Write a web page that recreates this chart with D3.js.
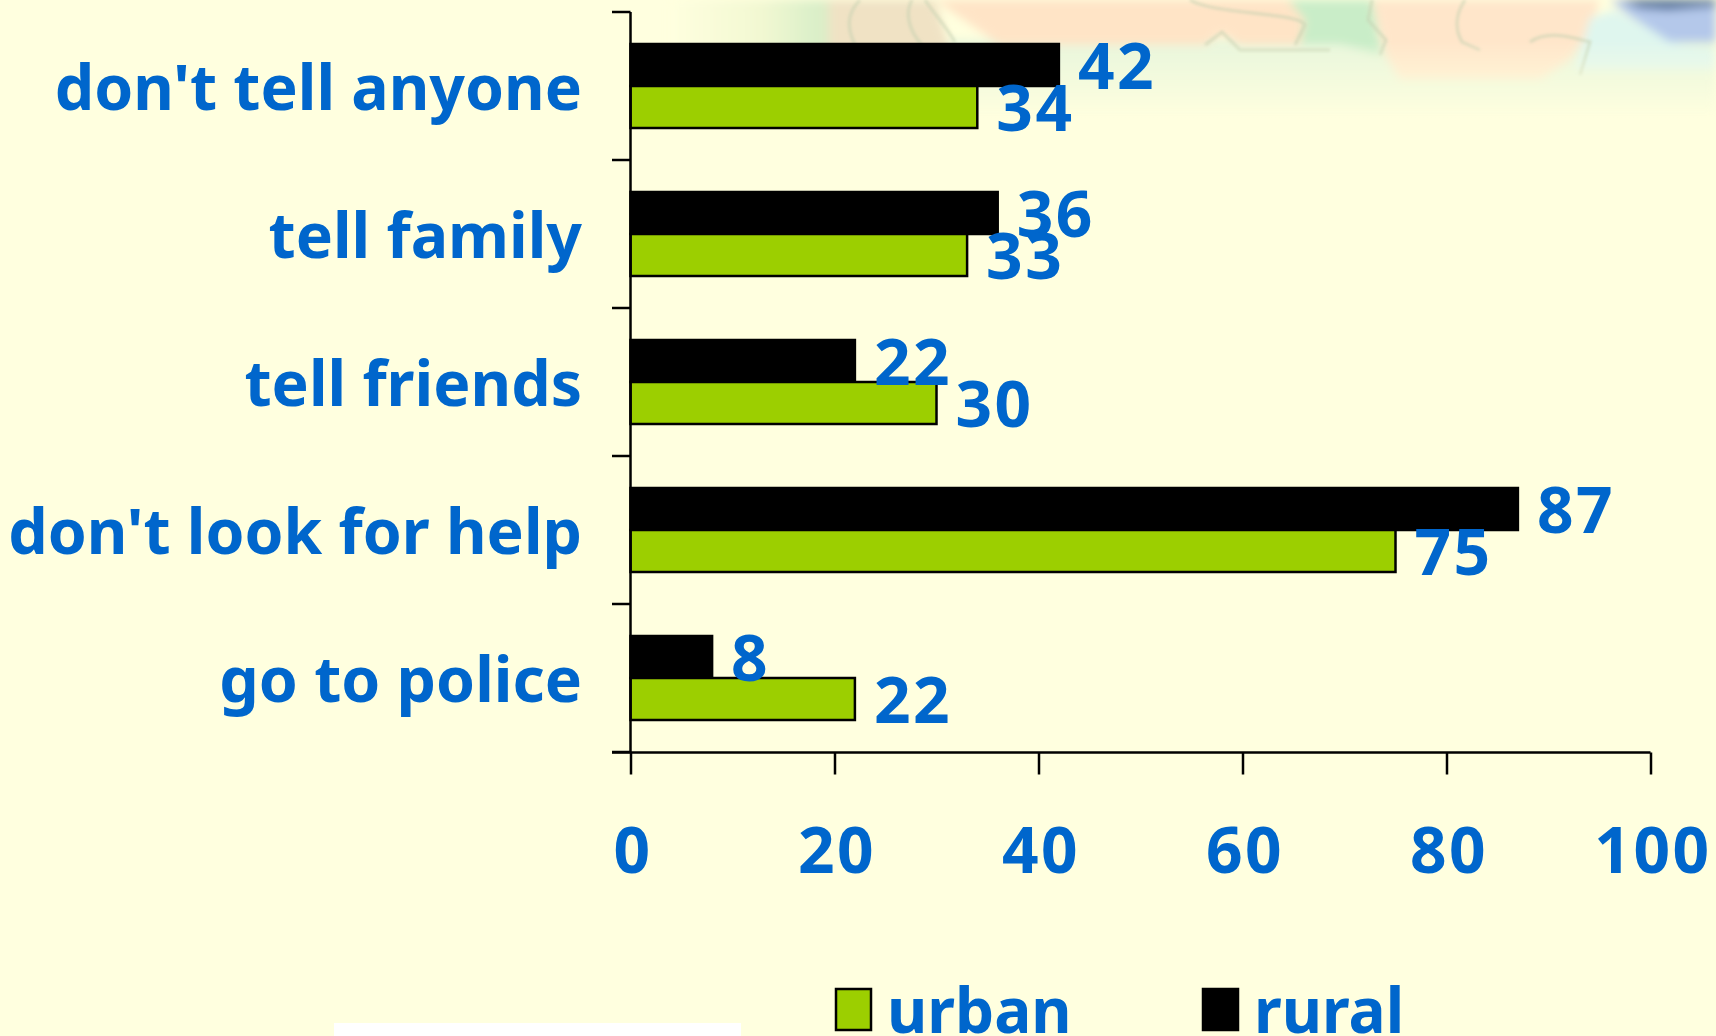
<!DOCTYPE html>
<html><head><meta charset="utf-8">
<script src="https://cdn.jsdelivr.net/npm/d3@7"></script>
<style>
html,body{margin:0;padding:0;background:#ffffdf;overflow:hidden}
text{font-family:"Noto Sans",sans-serif;font-weight:bold;fill:#0066cc}
</style></head><body>
<svg id="chart" width="1716" height="1036"></svg>
<script>
// Survey responses, listed from the top of the chart downwards
const categories = ["don't tell anyone", "tell family", "tell friends", "don't look for help", "go to police"];
const urban = [34, 33, 30, 75, 22];
const rural = [42, 36, 22, 87, 8];
const xTicks = [0, 20, 40, 60, 80, 100];

const colors = {urban: "#9ccf00", rural: "#000000"};
const labelSize = 62.5;
const numberSize = 64;
const numberSpacing = 2.5;
const svg = d3.select("#chart");

// Faded map artwork across the top of the slide
const defs = svg.append("defs");
defs.append("filter").attr("id", "soft").attr("x", "-5%").attr("y", "-20%").attr("width", "110%").attr("height", "140%")
  .append("feGaussianBlur").attr("stdDeviation", 5);
defs.append("filter").attr("id", "softer").attr("x", "-5%").attr("y", "-20%").attr("width", "110%").attr("height", "140%")
  .append("feGaussianBlur").attr("stdDeviation", 1.6);
const fade = defs.append("linearGradient").attr("id", "fade").attr("x1", 0).attr("x2", 0).attr("y1", 0).attr("y2", 1);
fade.append("stop").attr("offset", 0.35).attr("stop-color", "#fff");
fade.append("stop").attr("offset", 1).attr("stop-color", "#000");
defs.append("mask").attr("id", "fadeMask").attr("maskUnits", "userSpaceOnUse")
  .attr("x", 640).attr("y", 0).attr("width", 1076).attr("height", 118)
  .append("rect").attr("x", 640).attr("y", 0).attr("width", 1076).attr("height", 118).attr("fill", "url(#fade)");
const edgeFade = defs.append("linearGradient").attr("id", "edgeFade");
edgeFade.append("stop").attr("offset", 0).attr("stop-color", "#ffffdf");
edgeFade.append("stop").attr("offset", 0.55).attr("stop-color", "#f2f8d2");
edgeFade.append("stop").attr("offset", 0.9).attr("stop-color", "#d9efc8");
edgeFade.append("stop").attr("offset", 1).attr("stop-color", "#e6e8c6");

const mapRegions = [
  {fill: "#e8f6dc", d: "M820 40H1716V118H820Z"},
  {fill: "url(#edgeFade)", d: "M670 0H835V60H670Z"},
  {fill: "#f0e2c4", d: "M830 0H935L950 50H830Z"},
  {fill: "#ffe4c6", d: "M935 0H1288L1305 20L1300 45H1240L1222 34L1205 45H1000Z"},
  {fill: "#c9edc8", d: "M1288 0H1372L1382 55L1340 44H1300L1305 20Z"},
  {fill: "#ffe6ca", d: "M1372 0H1600L1590 30L1570 60L1540 80H1400L1385 55Z"},
  {fill: "#dff6ee", d: "M1590 18L1615 10L1680 45L1716 50V70H1575Z"},
  {fill: "#b4c8ea", d: "M1610 0H1716V42L1670 42L1630 16Z"},
  {fill: "#4a6a96", d: "M1620 0H1716V6L1668 10L1640 8Z"}
];
const mapBorders = [
  "M860 0C845 15 848 30 855 45",
  "M912 0C905 12 908 30 922 45",
  "M925 0C935 15 945 25 955 42",
  "M1190 0C1215 15 1300 12 1305 25L1295 45",
  "M1372 0L1368 20L1386 40L1380 55",
  "M1465 0C1455 15 1455 30 1462 42L1480 50",
  "M1530 42C1550 28 1580 40 1590 42L1580 75",
  "M1205 45L1222 32L1240 50H1330"
];
const mapArt = svg.append("g").attr("mask", "url(#fadeMask)");
mapArt.append("g").attr("filter", "url(#soft)")
  .selectAll("path").data(mapRegions).join("path")
  .attr("d", d => d.d).attr("fill", d => d.fill);
mapArt.append("g").attr("filter", "url(#softer)")
  .selectAll("path").data(mapBorders).join("path")
  .attr("d", d => d).attr("fill", "none").attr("stroke", "#c4d0b0").attr("stroke-width", 3).attr("stroke-opacity", 0.6);

// Pale strip at the foot of the slide
svg.append("rect").attr("x", 334).attr("y", 1023).attr("width", 407).attr("height", 13).attr("fill", "#fff");

const x = d3.scaleLinear().domain([0, 100]).range([630.5, 1650.5]);
const y = d3.scaleBand().domain(categories).range([12, 752]);
const inner = d3.scaleBand().domain(["rural", "urban"]).range([y.bandwidth() / 2 - 42, y.bandwidth() / 2 + 42]);

// Bars
const groups = svg.append("g").selectAll("g").data(categories).join("g")
  .attr("transform", d => `translate(0,${y(d)})`);
[["rural", rural], ["urban", urban]].forEach(([key, vals]) => {
  groups.append("rect")
    .attr("x", x(0))
    .attr("y", inner(key))
    .attr("width", (d, i) => x(vals[i]) - x(0))
    .attr("height", inner.bandwidth())
    .attr("fill", colors[key])
    .attr("stroke", "#000").attr("stroke-width", 2.5);
});

// Value labels
[["rural", rural], ["urban", urban]].forEach(([key, vals]) => {
  groups.append("text")
    .attr("x", (d, i) => x(vals[i]) + 19)
    .attr("y", inner(key) + inner.bandwidth() / 2 + 23.5)
    .attr("font-size", numberSize)
    .attr("letter-spacing", numberSpacing)
    .text((d, i) => vals[i]);
});

// Axes
const axisX = d3.axisBottom(x).tickValues(xTicks).tickSize(22).tickPadding(53);
const gx = svg.append("g").attr("transform", "translate(0,752.5)").call(axisX);
gx.select(".domain").attr("d", `M612,0H${x(100)}`).attr("stroke", "#000").attr("stroke-width", 2.5);
gx.selectAll(".tick line").attr("stroke", "#000").attr("stroke-width", 2.5);
gx.attr("font-family", null).attr("font-size", null);
gx.selectAll("text").attr("font-size", numberSize).attr("letter-spacing", numberSpacing).attr("dx", 2).attr("fill", null);

const edges = categories.map(c => y(c)).concat([752]);
const gy = svg.append("g");
gy.append("line").attr("x1", x(0)).attr("x2", x(0)).attr("y1", 12).attr("y2", 752).attr("stroke", "#000").attr("stroke-width", 2.5);
gy.selectAll("line.t").data(edges).join("line").attr("class", "t")
  .attr("x1", 612).attr("x2", x(0)).attr("y1", d => d).attr("y2", d => d)
  .attr("stroke", "#000").attr("stroke-width", 2.5);
gy.selectAll("text").data(categories).join("text")
  .attr("x", 582).attr("y", d => y(d) + y.bandwidth() / 2 + 24)
  .attr("text-anchor", "end").attr("font-size", labelSize)
  .text(d => d);

// Legend
const legend = [["urban", 836], ["rural", 1203]];
legend.forEach(([k, lx]) => {
  svg.append("rect").attr("x", lx).attr("y", 989).attr("width", 35).attr("height", 41)
    .attr("fill", colors[k]).attr("stroke", "#000").attr("stroke-width", 2.5);
  svg.append("text").attr("x", lx + 51).attr("y", 1033).attr("font-size", 62).text(k);
});
</script>
</body></html>
